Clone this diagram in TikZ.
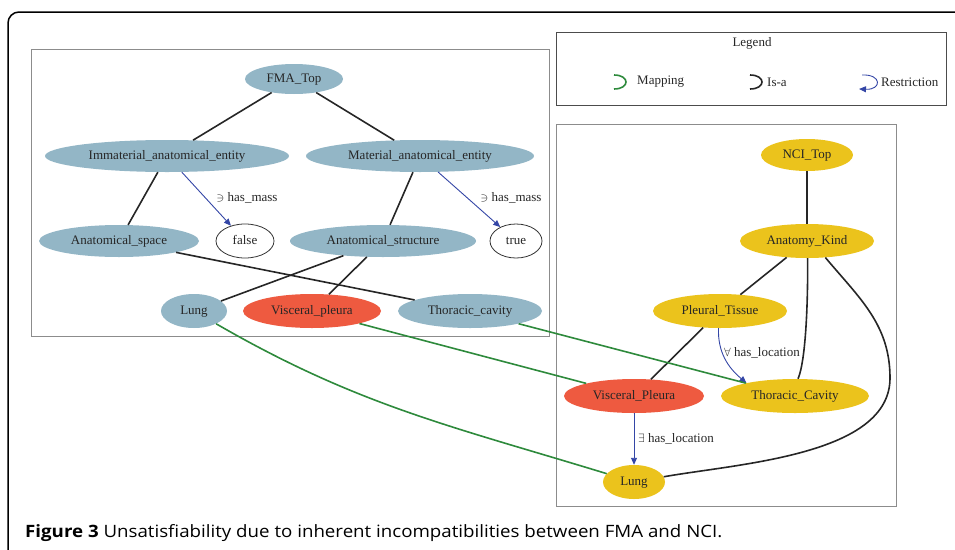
\documentclass[tikz,border=0pt]{standalone}
\usepackage{fontspec}
\setmainfont{Liberation Serif}
\newfontfamily\capfont{Open Sans}
\usetikzlibrary{shapes.geometric,arrows.meta}
\definecolor{fmablue}{HTML}{93B6C6}
\definecolor{vred}{HTML}{EE5A40}
\definecolor{nciyel}{HTML}{EBC31C}
\definecolor{mapgreen}{HTML}{2E8A3C}
\definecolor{restblue}{HTML}{3446A6}
\definecolor{boxgray}{HTML}{8C8C8C}
\tikzset{
  gnode/.style={ellipse, inner sep=0pt, text height=9pt, text depth=3pt, font=\fontsize{13}{15}\selectfont, text=black!85},
  fma/.style={gnode, fill=fmablue},
  visc/.style={gnode, fill=vred},
  nci/.style={gnode, fill=nciyel},
  valnode/.style={gnode, draw=black!80, line width=0.8pt, fill=white},
  isa/.style={line width=1.6pt, black!85},
  mapedge/.style={line width=1.6pt, mapgreen},
  restr/.style={line width=0.9pt, restblue, -{Triangle[length=7pt,width=6pt]}},
  elabel/.style={font=\fontsize{13}{15}\selectfont, text=black!85, inner sep=1pt},
  panel/.style={draw=boxgray, line width=1pt},
}
\begin{document}
\begin{tikzpicture}[x=1pt,y=-1pt]
\useasboundingbox (0,0) rectangle (955,549);
\clip (0,0) rectangle (955,549);
% outer frame
\draw[line width=1.5pt, rounded corners=11pt] (8,600) -- (8,12) -- (1000,12);
% panels
\draw[panel] (31,49) rectangle (549,336);
\draw[panel] (556,124) rectangle (896,506);
\draw[panel, draw=black!70] (556,32) rectangle (946,105);

% legend
\node[elabel] (legtitle) at (752,43) {Legend};
\node[elabel, anchor=west] (lmap) at (636,82) {Mapping};
\node[elabel, anchor=west] (lisa) at (766,82) {Is-a};
\node[elabel, anchor=west] (lres) at (880,82) {Restriction};
\coordinate (lm1) at (614,75); \coordinate (lm2) at (614,89);
\coordinate (li1) at (750,75); \coordinate (li2) at (750,89);
\coordinate (lr1) at (862,75); \coordinate (lr2) at (859,89);
\draw[mapedge] (lm1) .. controls (630,75) and (630,89) .. (lm2);
\draw[isa] (li1) .. controls (766,75) and (766,89) .. (li2);
\draw[restr] (lr1) .. controls (882,74) and (882,90) .. (lr2);

% FMA nodes
\node[fma, minimum width=98pt, minimum height=30pt] (fmatop) at (294,79) {FMA\_Top};
\node[fma, minimum width=244pt, minimum height=32pt] (imm) at (167,156) {Immaterial\_anatomical\_entity};
\node[fma, minimum width=228pt, minimum height=32pt] (mat) at (420,156) {Material\_anatomical\_entity};
\node[fma, minimum width=160pt, minimum height=32pt] (aspace) at (119,241) {Anatomical\_space};
\node[valnode, minimum width=58pt, minimum height=34pt] (false) at (245,241) {false};
\node[fma, minimum width=186pt, minimum height=32pt] (astruct) at (383,241) {Anatomical\_structure};
\node[valnode, minimum width=52pt, minimum height=34pt] (true) at (516,241) {true};
\node[fma, minimum width=66pt, minimum height=34pt] (flung) at (194,311) {Lung};
\node[visc, minimum width=138pt, minimum height=34pt] (fvp) at (312,311) {Visceral\_pleura};
\node[fma, minimum width=144pt, minimum height=34pt] (ftc) at (470,311) {Thoracic\_cavity};

% NCI nodes
\node[nci, minimum width=92pt, minimum height=32pt] (ncitop) at (807,155) {NCI\_Top};
\node[nci, minimum width=134pt, minimum height=34pt] (ak) at (807,241) {Anatomy\_Kind};
\node[nci, minimum width=134pt, minimum height=34pt] (pt) at (720,311) {Pleural\_Tissue};
\node[visc, minimum width=140pt, minimum height=34pt] (nvp) at (634,396) {Visceral\_Pleura};
\node[nci, minimum width=148pt, minimum height=34pt] (ntc) at (795,396) {Thoracic\_Cavity};
\node[nci, minimum width=62pt, minimum height=34pt] (nlung) at (634,482) {Lung};

% FMA edges
\draw[isa] (fmatop) -- (imm);
\draw[isa] (fmatop) -- (mat);
\draw[isa] (imm) -- (aspace);
\draw[isa] (mat) -- (astruct);
\draw[isa] (aspace) -- (ftc);
\draw[isa] (astruct) -- (flung);
\draw[isa] (astruct) -- (fvp);
\draw[restr] (imm) -- (false);
\draw[restr] (mat) -- (true);
\node[elabel] (lbl1) at (247,198) {$\ni$ has\_mass};
\node[elabel] (lbl2) at (511,198) {$\ni$ has\_mass};

% NCI edges
\draw[isa] (ncitop) -- (ak);
\draw[isa] (ak) -- (pt);
\draw[isa] (pt) -- (nvp);
\draw[isa] (ak.-88) .. controls (808,300) and (806,360) .. (ntc.80);
\coordinate (akr) at (890,378);
\draw[isa] (ak.-42) to[out=-50,in=90] (akr) to[out=-90,in=10,looseness=0.8] (nlung.10);
\draw[restr] (pt.-95) to[out=-92,in=140] (ntc.165);
\draw[restr] (nvp) -- (nlung);
\node[elabel] (lbl3) at (762,353) {$\forall$ has\_location};
\node[elabel] (lbl4) at (676,439) {$\exists$ has\_location};

% mappings
\draw[mapedge] (flung) to[out=-30,in=163] (nlung);
\draw[mapedge] (fvp) -- (nvp);
\draw[mapedge] (ftc) -- (ntc);

% caption
\node[anchor=base west, inner sep=0pt, font=\capfont\fontsize{17}{20}\selectfont] (cap) at (25,537)
  {\scalebox{1.1}[1]{\textbf{Figure 3} Unsatisfiability due to inherent incompatibilities between FMA and NCI.}};
\end{tikzpicture}
\end{document}
